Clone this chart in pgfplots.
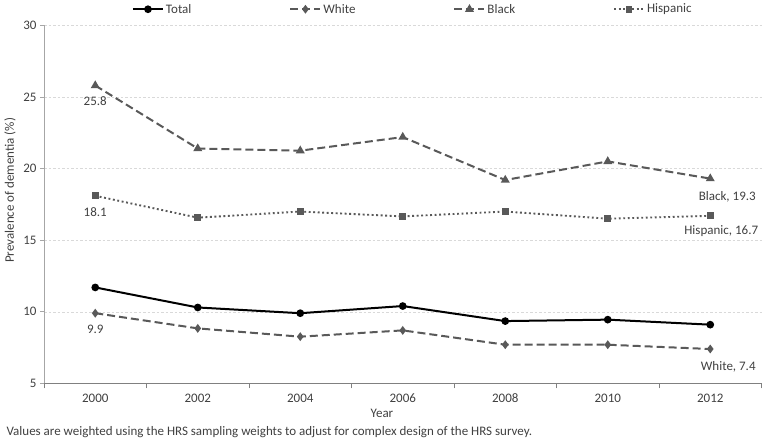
\documentclass[border=0pt]{standalone}
\usepackage{fontspec}
\setmainfont{Carlito}
\usepackage{pgfplots}
\pgfplotsset{compat=1.18}
\definecolor{ser}{HTML}{595959}
\definecolor{txt}{HTML}{404040}
\definecolor{gridc}{HTML}{D9D9D9}
\definecolor{axc}{HTML}{A6A6A6}
\newcommand\f{\fontsize{13}{15.6}\selectfont}
\begin{document}
\begin{tikzpicture}
\begin{axis}[
  scale only axis, width=717.5pt, height=358pt,
  xmin=-0.5, xmax=6.5, ymin=5, ymax=30,
  axis x line=bottom, axis y line=left,
  x axis line style={-, color=gray, line width=0.9pt},
  y axis line style={-, color=axc, line width=0.9pt},
  xtick={0,1,2,3,4,5,6},
  xticklabels={2000,2002,2004,2006,2008,2010,2012},
  minor xtick={-0.5,0.5,...,6.5},
  major x tick style={draw=none},
  minor x tick style={color=gray, line width=0.8pt},
  minor tick length=5pt,
  ytick={5,10,...,30},
  y tick style={color=axc, line width=0.8pt},
  major tick length=4pt,
  tick align=outside,
  ymajorgrids, grid style={gridc, dash pattern=on 2.5pt off 2pt, line width=0.5pt},
  /pgf/number format/assume math mode=true,
  ticklabel style={font=\f, color=txt},
  xticklabel style={yshift=-3pt},
  xlabel={Year}, ylabel={Prevalence of dementia (\%)},
  label style={font=\f, color=txt},
  xlabel style={at={(axis description cs:0.471,-0.0838)}, anchor=center},
  ylabel style={at={(axis description cs:-0.0474,0.539)}, anchor=center},
  legend columns=4,
  legend style={draw=none, fill=none, font=\f, text=txt,
    at={(axis description cs:0.514,1.045)}, anchor=center,
    /tikz/every even column/.append style={column sep=96pt}},
  legend image code/.code={\draw[mark repeat=2,mark phase=2,#1] plot coordinates {(0pt,0pt)(15pt,0pt)(30pt,0pt)};},
  clip=false,
]
\addplot[black, line width=2pt, mark=*, mark size=2.8pt, mark options={solid}]
  coordinates {(0,11.7)(1,10.3)(2,9.9)(3,10.4)(4,9.35)(5,9.45)(6,9.1)};
\addlegendentry{Total}
\addplot[ser, line width=2pt, dash pattern=on 8pt off 4pt, mark=diamond*, mark size=2.8pt, mark options={solid}]
  coordinates {(0,9.9)(1,8.84)(2,8.26)(3,8.7)(4,7.7)(5,7.7)(6,7.4)};
\addlegendentry{White}
\addplot[ser, line width=2pt, dash pattern=on 8pt off 4pt, mark=triangle*, mark size=3.2pt, mark options={solid}]
  coordinates {(0,25.8)(1,21.4)(2,21.25)(3,22.2)(4,19.2)(5,20.5)(6,19.3)};
\addlegendentry{Black}
\addplot[ser, line width=1.9pt, dash pattern=on 1.9pt off 2.6pt, mark=square*, mark size=2.4pt, mark options={solid}]
  coordinates {(0,18.1)(1,16.57)(2,17.0)(3,16.66)(4,17.0)(5,16.5)(6,16.7)};
\addlegendentry{Hispanic}
\node[font=\f, text=txt] at (axis cs:0,25.8) [yshift=-16pt] {25.8};
\node[font=\f, text=txt] at (axis cs:0,18.1) [yshift=-16.6pt] {18.1};
\node[font=\f, text=txt] at (axis cs:0,9.9) [yshift=-16pt] {9.9};
\node[font=\f, text=txt] at (axis cs:6,19.3) [xshift=17pt, yshift=-18pt] {Black, 19.3};
\node[font=\f, text=txt] at (axis cs:6,16.7) [xshift=11pt, yshift=-15pt] {Hispanic, 16.7};
\node[font=\f, text=txt] at (axis cs:6,7.4) [xshift=18pt, yshift=-17.5pt] {White, 7.4};
\node[font=\f, text=txt, anchor=west] at (axis description cs:-0.0571,-0.137) {Values are weighted using the HRS sampling weights to adjust for complex design of the HRS survey.};
\end{axis}
\path[use as bounding box] (-44pt,-56pt) rectangle (718pt,381pt);
\end{tikzpicture}
\end{document}
